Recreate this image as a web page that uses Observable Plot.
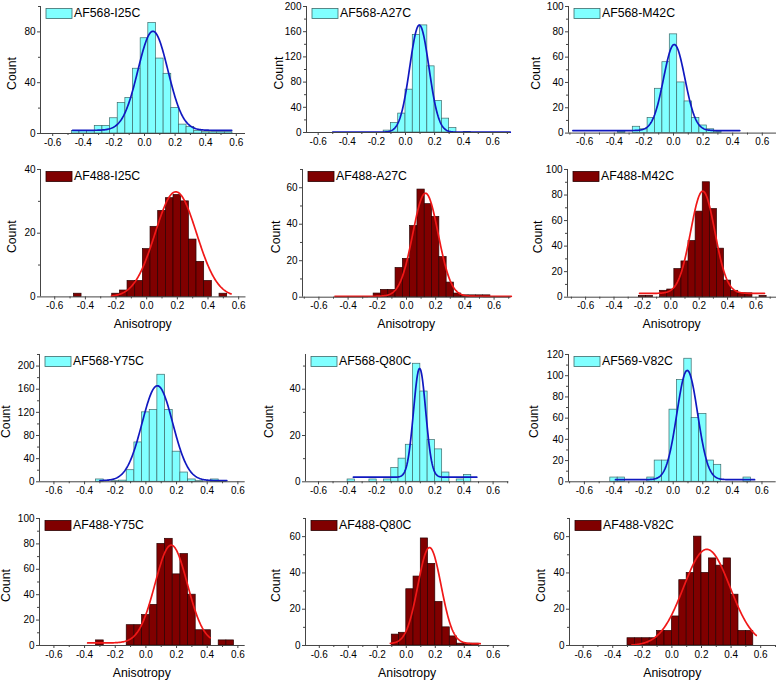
<!DOCTYPE html>
<html><head><meta charset="utf-8">
<script src="https://cdn.jsdelivr.net/npm/d3@7"></script>
<script src="https://cdn.jsdelivr.net/npm/@observablehq/plot@0.6"></script>
<style>
body{margin:0;background:#fff;}
#root{position:relative;width:776px;height:681px;overflow:hidden;background:#fff;font-family:"Liberation Sans",Arial,sans-serif;}
#root svg{position:absolute;overflow:visible;max-width:none;}
</style></head><body><div id="root"></div>
<script>
// ---------- data ----------
const panelNames = ["AF568-I25C","AF568-A27C","AF568-M42C","AF488-I25C","AF488-A27C","AF488-M42C",
                    "AF568-Y75C","AF568-Q80C","AF569-V82C","AF488-Y75C","AF488-Q80C","AF488-V82C"];
const panelDye = ["568","568","568","488","488","488","568","568","568","488","488","488"];
const binWidth = 0.05;
const xTickValues = [-0.6,-0.4,-0.2,0.0,0.2,0.4,0.6];
const xMinorValues = [-0.7,-0.5,-0.3,-0.1,0.1,0.3,0.5,0.7];

const centers1 = [-0.45,-0.40,-0.35,-0.30,-0.25,-0.20,-0.15,-0.10,-0.05,0.00,0.05,0.10,0.15,0.20,0.25,0.30,0.35,0.40,0.45,0.50,0.55];
const counts1  = [2,2,2,6,6,12,24,28,51,75,87,59,47,20,7,5,2,1,1,1,1];
const centers2 = [-0.125,-0.075,-0.025,0.025,0.075,0.125,0.175,0.225,0.275,0.325,0.425];
const counts2  = [3,15,30,68,155,170,105,50,22,7,1];
const centers3 = [-0.35,-0.25,-0.20,-0.15,-0.10,-0.05,0.00,0.05,0.10,0.15,0.20,0.25,0.30];
const counts3  = [1,5,3,12,35,56,78,40,25,12,6,3,1];
const centers4 = [-0.45,-0.20,-0.15,-0.10,-0.05,0.00,0.05,0.10,0.15,0.20,0.25,0.30,0.35,0.40,0.50];
const counts4  = [1,1,2,5,5,15,22,27,31,32,30,18,11,5,1];
const centers5 = [-0.20,-0.15,-0.10,-0.05,0.00,0.05,0.10,0.15,0.20,0.25,0.30,0.35,0.40,0.45,0.50,0.55];
const counts5  = [2,4,4,16,21,39,59,51,44,22,8,2,1,1,1,1];
const centers6 = [-0.20,-0.15,-0.05,0.00,0.05,0.10,0.15,0.20,0.25,0.30,0.35,0.40,0.45,0.50,0.55,0.65];
const counts6  = [1,1,5,6,22,28,44,67,90,69,38,13,5,3,3,1];
const centers7 = [-0.30,-0.20,-0.15,-0.10,-0.05,0.00,0.05,0.10,0.15,0.20,0.25,0.30,0.35,0.45,0.50];
const counts7  = [4,1,2,20,68,120,124,185,124,52,16,4,1,4,1];
const centers8 = [-0.375,-0.225,-0.125,-0.075,-0.025,0.025,0.075,0.125,0.175,0.225,0.275,0.375,0.425];
const counts8  = [1,1,1,6,10,16,51,39,18,14,4,1,3];
const centers9 = [-0.40,-0.35,-0.15,-0.10,-0.05,0.00,0.05,0.10,0.15,0.20,0.25,0.30,0.50];
const counts9  = [4,4,4,20,20,68,96,116,60,64,20,16,4];
const centers10 = [-0.30,-0.10,-0.05,0.00,0.05,0.10,0.15,0.20,0.25,0.30,0.35,0.40,0.50,0.55];
const counts10  = [4,16,16,24,32,80,84,56,72,40,12,12,4,4];
const centers11 = [-0.075,-0.025,0.025,0.075,0.125,0.175,0.225,0.275,0.325,0.375,0.425,0.475];
const counts11  = [6,7,31,38,59,45,24,10,5,1,1,1];
const centers12 = [-0.275,-0.225,-0.175,-0.125,-0.075,-0.025,0.025,0.075,0.125,0.175,0.225,0.275,0.325,0.375,0.425,0.475,0.525];
const counts12  = [4,4,4,4,8,8,16,36,40,60,40,48,44,48,28,8,8];

// Gaussian fit parameters (y = base + amp * exp(-(x-xc)^2 / (2 w^2))) and drawn range
const fitCenter = [0.055,0.095,0.005,0.19,0.13,0.225,0.075,0.095,0.095,0.165,0.16,0.236];
const fitSigma  = [0.098,0.066,0.072,0.135,0.087,0.085,0.100,0.042,0.070,0.105,0.080,0.157];
const fitAmp    = [78,170,68,33,56.5,80,164,47,103,77,53,53];
const fitBase   = [2.5,0.5,2,0,0.5,3,2,2,2,2,1,0];
const fitFrom   = [-0.47,-0.50,-0.68,-0.23,-0.49,-0.22,-0.30,-0.36,-0.39,-0.38,-0.11,-0.27];
const fitTo     = [0.57,0.72,0.45,0.55,0.72,0.66,0.53,0.49,0.55,0.42,0.51,0.57];

// y axis extents and tick steps
const yMax   = [100,200,100,40,70,100,220,55,120,100,70,70];
const yStep  = [40,40,20,20,20,20,40,20,20,20,20,20];

const allCenters = [centers1,centers2,centers3,centers4,centers5,centers6,centers7,centers8,centers9,centers10,centers11,centers12];
const allCounts  = [counts1,counts2,counts3,counts4,counts5,counts6,counts7,counts8,counts9,counts10,counts11,counts12];

// ---------- layout (pixels) ----------
const frames = [
  {zero:144,ppu:153,left:40,right:245,top:5.7,bottom:132.7,countDx:-27},
  {zero:405,ppu:145.5,left:306,right:510,top:5.7,bottom:131.7,countDx:-26},
  {zero:673,ppu:148,left:568,right:776,top:5.7,bottom:132.3,countDx:-31.5},
  {zero:145.7,ppu:153.3,left:39.5,right:245,top:169.3,bottom:296.7,countDx:-27.5},
  {zero:405.5,ppu:146,left:301.5,right:510,top:169,bottom:296.7,countDx:-25},
  {zero:670,ppu:142,left:566.7,right:776,top:169,bottom:296.7,countDx:-28.5},
  {zero:145.7,ppu:153.3,left:39.3,right:245,top:354,bottom:481.3,countDx:-31.8},
  {zero:405,ppu:145.5,left:304.7,right:508,top:354,bottom:481.3,countDx:-35},
  {zero:673,ppu:148,left:568.3,right:776,top:354,bottom:481.3,countDx:-33.3},
  {zero:145.7,ppu:153.3,left:39.3,right:245,top:518,bottom:645,countDx:-31.8},
  {zero:405.5,ppu:145,left:304.7,right:509,top:518,bottom:645,countDx:-28},
  {zero:671.7,ppu:148,left:569.3,right:776,top:518,bottom:645,countDx:-27.6}
];
const showXLabel = [false,false,false,true,true,true,false,false,false,true,true,true];

const style568 = {fill:"#80ffff", stroke:"#3d6b6b", line:"#1018c0"};
const style488 = {fill:"#800000", stroke:"#2a0000", line:"#f01818"};
const FONT = '"Liberation Sans", Arial, sans-serif';

const root = document.getElementById("root");
const mL = 45, mR = 6, mT = 10, mB = 36;

for (let i = 0; i < 12; i++) {
  const F = frames[i];
  const st = panelDye[i] === "568" ? style568 : style488;
  const w = F.right - F.left, h = F.bottom - F.top;
  const xd = [(F.left - F.zero) / F.ppu, (F.right - F.zero) / F.ppu];
  const bars = allCenters[i].map((c, j) => ({x1: c - binWidth/2, x2: c + binWidth/2, y: allCounts[i][j]}));
  const fit = [];
  for (let x = fitFrom[i]; x <= fitTo[i] + 1e-9; x += 0.004) {
    fit.push({x, y: fitBase[i] + fitAmp[i] * Math.exp(-0.5 * ((x - fitCenter[i]) / fitSigma[i]) ** 2)});
  }
  const yMajor = d3.range(0, yMax[i] + 1e-9, yStep[i]);
  const yMinor = d3.range(yStep[i]/2, yMax[i] + 1e-9, yStep[i]).filter(v => !yMajor.includes(v));
  const xMinor = xMinorValues.filter(v => v > xd[0] && v < xd[1]);

  const plot = Plot.plot({
    width: w + mL + mR, height: h + mT + mB,
    marginLeft: mL, marginRight: mR, marginTop: mT, marginBottom: mB,
    x: {domain: xd}, y: {domain: [0, yMax[i]]},
    style: {fontFamily: FONT, fontSize: "10px", background: "transparent", overflow: "visible", color: "#000"},
    marks: [
      Plot.rectY(bars, {x1: "x1", x2: "x2", y: "y", fill: st.fill, stroke: st.stroke, strokeWidth: 0.7, inset: 0}),
      Plot.line(fit, {x: "x", y: "y", stroke: st.line, strokeWidth: 1.7}),
      Plot.ruleY([0], {stroke: "#444", strokeWidth: 1}),
      Plot.ruleX([xd[0]], {stroke: "#444", strokeWidth: 1}),
      Plot.axisX(xTickValues, {tickSize: 3, tickPadding: 2, tickFormat: d => d.toFixed(1), fontSize: 10, label: null, stroke: "#444"}),
      Plot.axisX(xMinor, {tickSize: 2, tickFormat: () => "", label: null, stroke: "#444"}),
      Plot.axisY(yMajor, {tickSize: 3, tickPadding: 2, tickFormat: d => String(d), fontSize: 10, label: null, stroke: "#444"}),
      Plot.axisY(yMinor, {tickSize: 2, tickFormat: () => "", label: null, stroke: "#444"})
    ]
  });
  plot.style.left = (F.left - mL) + "px";
  plot.style.top = (F.top - mT) + "px";
  const svg = d3.select(plot);
  // legend
  svg.append("rect").attr("x", mL + 6).attr("y", mT + 2.5).attr("width", 26).attr("height", 10)
     .attr("fill", st.fill).attr("stroke", st.stroke).attr("stroke-width", 0.8);
  svg.append("text").attr("x", mL + 34).attr("y", mT + 7.8).attr("text-anchor", "start").attr("dominant-baseline", "middle")
     .attr("font-family", FONT).attr("font-size", 12.3).attr("fill", "#000").text(panelNames[i]);
  // y axis title
  svg.append("text").attr("transform", `translate(${mL + F.countDx},${mT + h/2 + 4}) rotate(-90)`)
     .attr("text-anchor", "middle").attr("dominant-baseline", "middle")
     .attr("font-family", FONT).attr("font-size", 12.3).attr("fill", "#000").text("Count");
  if (showXLabel[i]) {
    svg.append("text").attr("x", mL + w/2).attr("y", mT + h + 28.5).attr("text-anchor", "middle")
       .attr("dominant-baseline", "middle").attr("font-family", FONT).attr("font-size", 12.3)
       .attr("fill", "#000").text("Anisotropy");
  }
  root.appendChild(plot);
}
</script></body></html>
